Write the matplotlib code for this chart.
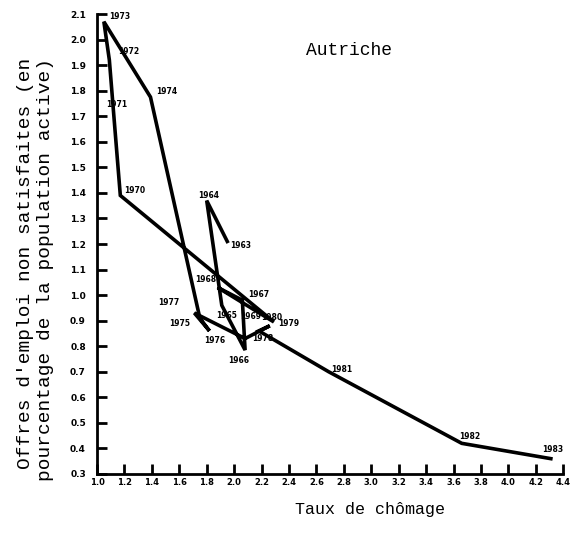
import numpy as np
import matplotlib
matplotlib.use("Agg")
import matplotlib.pyplot as plt

# Beveridge curve, Austria: unemployment rate vs unfilled vacancies (% of labour force)
years = [1963, 1964, 1965, 1966, 1967, 1968, 1969, 1970, 1971, 1972, 1973,
         1974, 1975, 1976, 1977, 1978, 1979, 1980, 1981, 1982, 1983]
chomage = [1.95, 1.80, 1.91, 2.08, 2.06, 1.88, 2.29, 1.17, 1.12, 1.09, 1.05,
           1.39, 1.75, 1.82, 1.71, 2.08, 2.26, 2.18, 2.69, 3.66, 4.31]
offres = [1.21, 1.37, 0.96, 0.785, 0.98, 1.03, 0.895, 1.39, 1.72, 1.92, 2.07,
          1.775, 0.91, 0.86, 0.93, 0.83, 0.88, 0.86, 0.70, 0.42, 0.36]

# label offsets (points) for the year tags
offsets = {1963: (2, -5), 1964: (-6, 2), 1965: (-4, -9), 1966: (-12, -9),
           1967: (4, 2), 1968: (-16, 4), 1969: (-24, 2), 1970: (3, 2),
           1971: (-5, 3), 1972: (6, 4), 1973: (4, 2), 1974: (4, 2),
           1975: (-22, -6), 1976: (-4, -9), 1977: (-26, 6), 1978: (5, -2),
           1979: (6, 0), 1980: (2, 8), 1981: (2, 0), 1982: (-2, 3), 1983: (-6, 5)}

xticks = np.round(np.arange(1.0, 4.41, 0.2), 1)
yticks = np.round(np.arange(0.3, 2.11, 0.1), 1)

mono = ["Liberation Mono", "DejaVu Sans Mono"]

fig = plt.figure(figsize=(5.72, 5.33), dpi=100)
ax = fig.add_axes([0.1696, 0.1107, 0.8150, 0.8630])

ax.plot(chomage, offres, color="black", linewidth=2.6, solid_joinstyle="miter")

for yr, x, y in zip(years, chomage, offres):
    dx, dy = offsets[yr]
    ax.annotate(str(yr), (x, y), xytext=(dx, dy), textcoords="offset points",
                fontsize=5.5, fontweight="bold", color="black")

ax.set_xlim(1.0, 4.4)
ax.set_ylim(0.3, 2.1)
ax.set_xticks(xticks)
ax.set_yticks(yticks)
ax.set_xticklabels([f"{v:.1f}" for v in xticks], fontsize=6, fontweight="bold")
ax.set_yticklabels([f"{v:.1f}" for v in yticks], fontsize=6.5, fontweight="bold")
ax.tick_params(axis="y", direction="in", length=7, width=2, pad=8)
ax.tick_params(axis="x", direction="in", length=7, width=2, pad=3)

for s in ["top", "right"]:
    ax.spines[s].set_visible(False)
for s in ["left", "bottom"]:
    ax.spines[s].set_linewidth(2)

ax.text(0.54, 0.92, "Autriche", transform=ax.transAxes, ha="center",
        va="center", fontsize=13, family=mono)

fig.text(0.647, 0.035, "Taux de chômage", ha="center", fontsize=12, family=mono)
fig.text(0.045, 0.505, "Offres d'emploi non satisfaites (en", rotation=90,
         ha="center", va="center", fontsize=14, family=mono)
fig.text(0.080, 0.495, "pourcentage de la population active)", rotation=90,
         ha="center", va="center", fontsize=14, family=mono)

fig.savefig("out.png", dpi=100)
